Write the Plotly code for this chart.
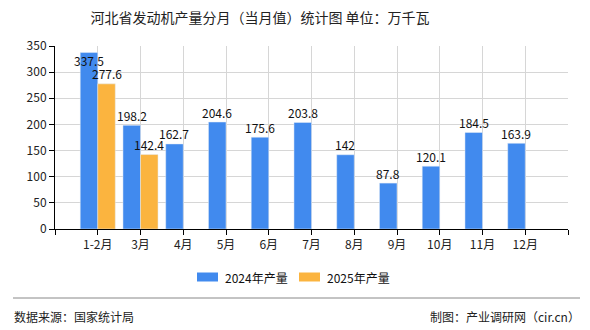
import plotly.graph_objects as go

categories = ["1-2月", "3月", "4月", "5月", "6月", "7月", "8月", "9月", "10月", "11月", "12月"]
values_2024 = [337.5, 198.2, 162.7, 204.6, 175.6, 203.8, 142, 87.8, 120.1, 184.5, 163.9]
values_2025 = [277.6, 142.4]
series_names = ["2024年产量", "2025年产量"]
y_ticks = [0, 50, 100, 150, 200, 250, 300, 350]

BLUE = "#418AEE"
ORANGE = "#FBB43F"
FONT = "Noto Sans CJK SC"

L, R, T, B = 55, 568, 46, 229
PW, PH = R - L, B - T

def px(x):
    return (x - L) / PW

def py(y):
    return (B - y) / PH

xs = list(range(len(categories)))
v25 = values_2025 + [None] * (len(categories) - len(values_2025))

fig = go.Figure()
fig.add_trace(go.Bar(x=xs, y=values_2024, name=series_names[0], marker_color=BLUE, showlegend=False))
fig.add_trace(go.Bar(x=xs, y=v25, name=series_names[1], marker_color=ORANGE, showlegend=False))

def fmt(v):
    return ("%g" % v)

off = 0.205
for i, v in enumerate(values_2024):
    fig.add_annotation(x=i - off, y=v, text=fmt(v), showarrow=False, xref="x", yref="y",
                       yshift=-8 if v > 330 else 10, font=dict(family=FONT, size=12, color="#111"))
for i, v in enumerate(values_2025):
    fig.add_annotation(x=i + off, y=v, text=fmt(v), showarrow=False, xref="x", yref="y",
                       yshift=10, font=dict(family=FONT, size=12, color="#111"))

tickvals = list(range(-1, len(categories) + 1))
ticktext = [""] + categories + [""]

fig.update_layout(
    width=590, height=330,
    margin=dict(l=L, r=590 - R, t=T, b=330 - B),
    paper_bgcolor="white", plot_bgcolor="white",
    barmode="group", bargap=0.18, bargroupgap=0,
    font=dict(family=FONT, size=12, color="#222"),
    title=dict(text="河北省发动机产量分月（当月值）统计图 单位：万千瓦", x=260/590, xanchor="center",
               y=1 - 18/330, yanchor="middle", font=dict(family=FONT, size=14, color="#222")),
    showlegend=False,
)
fig.update_xaxes(range=[-1, len(categories)], tickvals=tickvals, ticktext=ticktext,
                 showgrid=True, gridcolor="#d6d6d6", gridwidth=1,
                 showline=True, linecolor="#000", linewidth=1,
                 ticks="outside", ticklen=5, tickcolor="#000", zeroline=False,
                 tickfont=dict(family=FONT, size=12, color="#222"))
fig.update_yaxes(range=[0, 350], tickvals=y_ticks, showgrid=True, gridcolor="#d6d6d6", gridwidth=1,
                 showline=True, linecolor="#000", linewidth=1,
                 ticks="outside", ticklen=5, tickcolor="#000", zeroline=False,
                 tickfont=dict(family=FONT, size=12, color="#222"))

# custom legend
leg_y = 277
for (sx, color, name) in [(197, BLUE, series_names[0]), (299, ORANGE, series_names[1])]:
    fig.add_shape(type="rect", xref="paper", yref="paper", x0=px(sx), x1=px(sx + 21),
                  y0=py(leg_y + 4.5), y1=py(leg_y - 4.5), fillcolor=color, line=dict(width=0))
    fig.add_annotation(xref="paper", yref="paper", x=px(sx + 26), y=py(leg_y), xanchor="left", yanchor="middle",
                       text=name, showarrow=False, font=dict(family=FONT, size=12, color="#111"))

# footer
fig.add_shape(type="line", xref="paper", yref="paper", x0=px(13), x1=px(580),
              y0=py(298), y1=py(298), line=dict(color="#888", width=1))
fig.add_annotation(xref="paper", yref="paper", x=px(12), y=py(316), xanchor="left", yanchor="middle",
                   text="数据来源：国家统计局", showarrow=False, font=dict(family=FONT, size=12, color="#222"))
fig.add_annotation(xref="paper", yref="paper", x=px(582), y=py(316), xanchor="right", yanchor="middle",
                   text="制图：产业调研网（cir.cn）", showarrow=False, font=dict(family=FONT, size=12, color="#222"))

fig.write_html("out.html")
